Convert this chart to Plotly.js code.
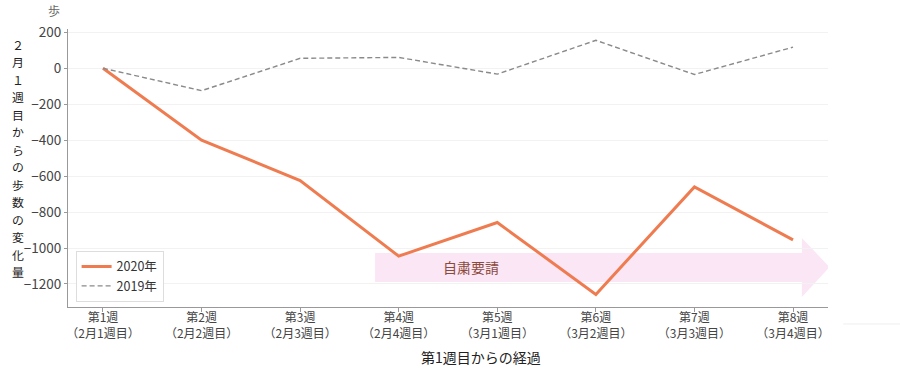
<!DOCTYPE html>
<html><head><meta charset="utf-8">
<script src="https://cdn.plot.ly/plotly-3.0.1.min.js"></script>
<style>body{margin:0;background:#fff}#c{width:900px;height:379px}</style>
</head><body><div id="c"></div>
<script>
const weeks = ["第1週","第2週","第3週","第4週","第5週","第6週","第7週","第8週"];
const weekSub = ["（2月1週目）","（2月2週目）","（2月3週目）","（2月4週目）","（3月1週目）","（3月2週目）","（3月3週目）","（3月4週目）"];
const y2020 = [0, -400, -625, -1045, -858, -1258, -660, -955];
const y2019 = [0, -125, 55, 60, -33, 155, -35, 117];
const yTicks = [200, 0, -200, -400, -600, -800, -1000, -1200];
const seriesNames = ["2020年", "2019年"];
const arrowLabel = "自粛要請";
const yTitle = "２月１週目からの歩数の変化量";
const xTitle = "第1週目からの経過";
const unitLabel = "歩";

const idx = weeks.map((_, i) => i);
const F = '"Noto Sans CJK JP", "Noto Sans", sans-serif';

const traces = [
  {x: idx, y: y2020, name: seriesNames[0], mode: "lines", line: {color: "#ef7c50", width: 3}},
  {x: idx, y: y2019, name: seriesNames[1], mode: "lines", line: {color: "#8a8a8a", width: 1.4, dash: "5px,3px"}}
];

// vertical stacked y-axis title, one character per line
const plotTop = 29, plotH = 278;
const titleChars = Array.from(yTitle);
const yTitleAnns = titleChars.map((ch, i) => ({
  text: ch, xref: "paper", yref: "paper", x: -0.066,
  y: (plotTop + plotH - (44 + i * 17.5)) / plotH,
  xanchor: "center", yanchor: "middle", showarrow: false, borderpad: 0,
  font: {size: 11.9, color: "#222"}
}));

const layout = {
  width: 900, height: 379,
  margin: {l: 68, r: 72, t: 29, b: 72},
  paper_bgcolor: "#fff", plot_bgcolor: "#fff",
  font: {family: F, color: "#333", size: 12},
  showlegend: true,
  legend: {x: 0.01, y: 0.018, xanchor: "left", yanchor: "bottom", bordercolor: "#dddddd", borderwidth: 1,
           bgcolor: "rgba(255,255,255,0.9)", font: {size: 12.5, color: "#333"}, tracegroupgap: 0},
  xaxis: {
    range: [-0.355, 7.355], tickvals: idx,
    ticktext: weeks.map((w, i) => w + "<br>" + weekSub[i]),
    tickfont: {size: 12, color: "#444"}, ticklabelstandoff: -4,
    showgrid: false, zeroline: false, showline: true, linecolor: "#999", linewidth: 1,
    ticks: "outside", ticklen: 4, tickcolor: "#999"
  },
  yaxis: {
    range: [-1328, 218], tickvals: yTicks, ticktext: yTicks.map(v => String(v).replace("-", "−")),
    tickfont: {size: 13.5, color: "#444"},
    showgrid: true, gridcolor: "#f2f2f2", zeroline: false,
    showline: true, linecolor: "#999", linewidth: 1, ticks: "outside", ticklen: 3, tickcolor: "#999"
  },
  shapes: [
    {type: "path", xref: "x", yref: "y", layer: "below", line: {width: 0}, fillcolor: "#fbe6f5",
     path: "M 2.76 -1028 L 7.09 -1028 L 7.09 -944 L 7.37 -1106 L 7.09 -1272 L 7.09 -1189 L 2.76 -1189 Z"},
    {type: "line", xref: "paper", yref: "paper", x0: 1.02, x1: 1.1, y0: -0.061, y1: -0.061, line: {color: "#eeeeee", width: 1}}
  ],
  annotations: [
    {text: arrowLabel, xref: "x", yref: "y", x: 3.73, y: -1106, showarrow: false, font: {size: 14, color: "#8b4a3c"}},
    {text: xTitle, xref: "paper", yref: "paper", x: 0.543, y: -0.18, xanchor: "center", yanchor: "middle", showarrow: false, font: {size: 14, color: "#222"}},
    {text: unitLabel, xref: "paper", yref: "paper", x: -0.018, y: 1.065, xanchor: "center", yanchor: "middle", showarrow: false, font: {size: 12, color: "#666"}}
  ].concat(yTitleAnns)
};
Plotly.newPlot("c", traces, layout, {displayModeBar: false, staticPlot: true});
</script></body></html>
